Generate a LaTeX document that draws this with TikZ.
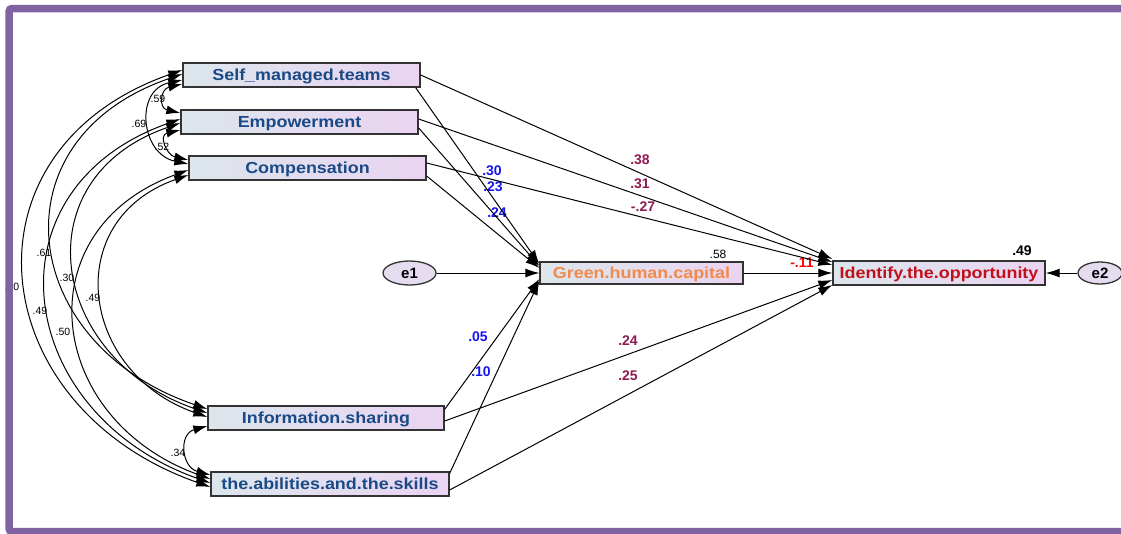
\documentclass[tikz,border=0pt]{standalone}
\usepackage{fontspec}
\setmainfont{Liberation Sans}
\newfontfamily\widefont{Liberation Sans}[FakeStretch=1.12]
\usetikzlibrary{arrows.meta,calc,shapes.geometric}

\definecolor{framepurple}{HTML}{8064A2}
\definecolor{boxleft}{HTML}{DCE6EC}
\definecolor{boxright}{HTML}{EAD4F2}
\definecolor{varblue}{HTML}{1A4A85}
\definecolor{greenorange}{HTML}{F28A4A}
\definecolor{oppred}{HTML}{C0101A}
\definecolor{coefblue}{HTML}{1414F0}
\definecolor{coefplum}{HTML}{8C1A52}
\definecolor{errfill}{HTML}{E6DCF0}

\begin{document}
\begin{tikzpicture}[x=1pt,y=-1pt,
    var/.style={draw=black!80, line width=1.3pt, left color=boxleft, right color=boxright,
        minimum height=24pt, inner sep=0pt, text=varblue, text height=11.5pt, text depth=0pt,
        font=\widefont\bfseries\fontsize{16}{16}\selectfont},
    err/.style={ellipse, draw=black!80, line width=1.3pt, fill=errfill, minimum width=53pt,
        minimum height=24pt, inner sep=0pt, font=\bfseries\fontsize{15}{15}\selectfont},
    arr/.style={-{Latex[length=14pt,width=9pt]}, line width=1pt},
    covarc/.style={{Latex[length=14pt,width=9pt]}-{Latex[length=14pt,width=9pt]}, line width=1pt},
    coefb/.style={inner sep=0pt, text=coefblue, font=\bfseries\fontsize{14}{14}\selectfont},
    coefp/.style={inner sep=0pt, text=coefplum, font=\bfseries\fontsize{14}{14}\selectfont},
    covlab/.style={inner sep=0pt, font=\fontsize{10.5}{10.5}\selectfont}]
    \useasboundingbox (0,0) rectangle (1121,533);
    \clip (0,0) rectangle (1121,533);

    % variables
    \node[var, minimum width=237pt] (self) at (301.5,75) {Self\_managed.teams};
    \node[var, minimum width=237pt] (emp) at (299.5,122) {Empowerment};
    \node[var, minimum width=237pt] (comp) at (307.5,168) {Compensation};
    \node[var, minimum width=236pt] (info) at (326,418) {Information.sharing};
    \node[var, minimum width=238pt] (abil) at (330,484) {the.abilities.and.the.skills};
    \node[var, minimum width=203pt, minimum height=22pt, text=greenorange] (green) at (641.5,273) {Green.human.capital};
    \node[var, minimum width=212pt, text=oppred] (opp) at (939,273) {Identify.the.opportunity};
    \node[err] (e1) at (409.5,273) {e1};
    \node[err, minimum width=44pt, minimum height=22pt] (e2) at (1100,273) {e2};

    % coefficients
    \node[inner sep=0pt, text=red, font=\bfseries\fontsize{14}{14}\selectfont] (gtoo) at (802,263) {-.11};
    \foreach \px/\py/\val [count=\n] in {492/171/.30, 493/187/.23, 497/213/.24, 478/337/.05, 481/372/.10} {
            \node[coefb] (tg\n) at (\px,\py) {\val};
        }
    \foreach \px/\py/\val [count=\n] in {640/160/.38, 640/184/.31, 643/207/-.27, 628/341/.24, 628/376/.25} {
            \node[coefp] (to\n) at (\px,\py) {\val};
        }
    \node[inner sep=0pt, font=\fontsize{12}{12}\selectfont] (rgreen) at (718,254) {.58};
    \node[inner sep=0pt, font=\bfseries\fontsize{14}{14}\selectfont] (ropp) at (1022,251) {.49};
    \foreach \px/\py/\val [count=\n] in {158/99/.59, 139/124/.69, 162/147/.52, 44/253/.61, 67/278/.30,
            93/298/.49, 12/287/.60, 40/311/.49, 63/332/.50, 178/453/.34} {
            \node[covlab] (cv\n) at (\px,\py) {\val};
        }

    % paths to the opportunity
    \draw[arr] (self.east) -- ($(opp.west)+(0,-14)$);
    \draw[arr] ($(emp.east)+(0,-3)$) -- ($(opp.west)+(0,-11)$);
    \draw[arr] ($(comp.east)+(0,-5)$) -- ($(opp.west)+(0,-8)$);
    \draw[arr] ($(info.east)+(0,3)$) -- ($(opp.west)+(0,7)$);
    \draw[arr] ($(abil.east)+(0,6)$) -- ($(opp.west)+(0,12)$);
    \draw[arr] (green) -- (opp);
    \draw[arr] (e2) -- (opp);
    % paths to green human capital
    \draw[arr] ($(self.south east)+(-5,0)$) -- ($(green.west)+(0,-9)$);
    \draw[arr] ($(emp.east)+(0,6)$) -- ($(green.west)+(0,-7)$);
    \draw[arr] ($(comp.east)+(0,8)$) -- ($(green.west)+(0,-5)$);
    \draw[arr] ($(info.north east)+(0,4)$) -- ($(green.west)+(0,6)$);
    \draw[arr] ($(abil.north east)+(0,2)$) -- ($(green.west)+(0,8)$);
    \draw[arr] (e1) -- (green);

    % covariances
    \draw[covarc] ($(self.west)+(0,9)$) .. controls +(-22,5) and +(-22,-5) .. ($(emp.west)+(0,-9)$);
    \draw[covarc] ($(emp.west)+(0,8)$) .. controls +(-22,5) and +(-22,-5) .. ($(comp.west)+(0,-8)$);
    \draw[covarc] ($(self.west)+(0,5)$) .. controls +(-48,10) and +(-48,-10) .. ($(comp.west)+(0,-4)$);
    \draw[covarc] ($(info.west)+(0,8)$) .. controls +(-29,8) and +(-29,-8) .. ($(abil.west)+(0,-9)$);
    \draw[covarc] ($(self.west)+(0,-5)$) .. controls +(-228,80) and +(-228,-80) .. ($(abil.west)+(0,3)$);
    \draw[covarc] ($(self.west)+(0,-1)$) .. controls +(-190,65) and +(-190,-65) .. ($(info.west)+(0,-9)$);
    \draw[covarc] ($(emp.west)+(0,-3)$) .. controls +(-197,70) and +(-197,-70) .. ($(abil.west)+(0,-1)$);
    \draw[covarc] ($(emp.west)+(0,1)$) .. controls +(-159,55) and +(-159,-55) .. ($(info.west)+(0,-5)$);
    \draw[covarc] ($(comp.west)+(0,2)$) .. controls +(-165,60) and +(-165,-60) .. ($(abil.west)+(0,-5)$);
    \draw[covarc] ($(comp.west)+(0,7)$) .. controls +(-128,45) and +(-128,-45) .. ($(info.west)+(0,-1)$);

    % frame
    \draw[framepurple, line width=7.5pt, rounded corners=3pt] (9,8.5) rectangle (1140,531.5);
\end{tikzpicture}
\end{document}
